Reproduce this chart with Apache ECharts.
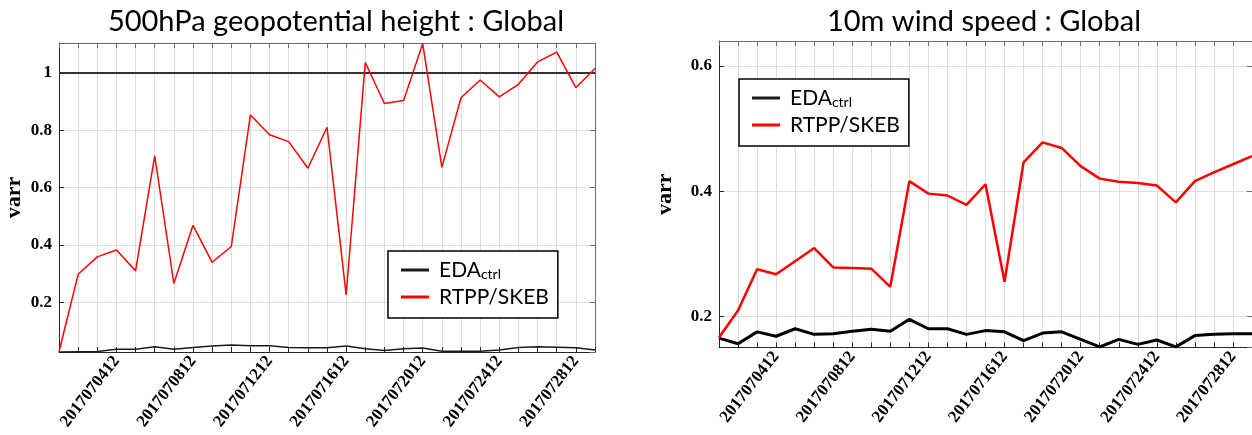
<!DOCTYPE html>
<html>
<head>
<meta charset="utf-8">
<script src="https://cdn.jsdelivr.net/npm/echarts@6/dist/echarts.min.js"></script>
<style>
  html, body { margin: 0; padding: 0; background: #fff; }
  #chart { width: 1252px; height: 435px; }
</style>
</head>
<body>
<div id="chart"></div>
<script>
// Analysis cycles (daily, 12 UTC)
const dates = [
  '2017070112','2017070212','2017070312','2017070412','2017070512','2017070612','2017070712',
  '2017070812','2017070912','2017071012','2017071112','2017071212','2017071312','2017071412',
  '2017071512','2017071612','2017071712','2017071812','2017071912','2017072012','2017072112',
  '2017072212','2017072312','2017072412','2017072512','2017072612','2017072712','2017072812',
  '2017072912'
];

// 500hPa geopotential height : varr
const z500Eda = [0.026,0.027,0.028,0.036,0.036,0.044,0.036,0.042,0.047,0.050,0.048,0.048,0.042,0.041,
  0.041,0.047,0.037,0.031,0.037,0.040,0.029,0.029,0.029,0.033,0.042,0.044,0.043,0.041,0.033];
const z500Rtpp = [0.027,0.297,0.358,0.382,0.309,0.710,0.265,0.468,0.339,0.394,0.853,0.784,0.760,0.667,
  0.810,0.225,1.036,0.893,0.903,1.102,0.670,0.913,0.975,0.916,0.960,1.038,1.072,0.948,1.015];

// 10m wind speed : varr
const wsEda = [0.165,0.156,0.175,0.168,0.180,0.171,0.172,0.176,0.179,0.176,0.195,0.180,0.180,0.171,
  0.177,0.175,0.161,0.173,0.175,0.163,0.151,0.163,0.155,0.162,0.151,0.169,0.171,0.172,0.172];
const wsRtpp = [0.166,0.209,0.275,0.267,0.288,0.309,0.278,0.277,0.276,0.247,0.416,0.396,0.393,0.378,
  0.411,0.255,0.446,0.478,0.469,0.440,0.420,0.415,0.413,0.409,0.382,0.416,0.430,0.443,0.456];

const titles = ['500hPa geopotential height : Global', '10m wind speed : Global'];
const seriesNames = ['EDA_ctrl', 'RTPP/SKEB'];
const yName = 'varr';

const SERIF = '"Liberation Serif", "Times New Roman", serif';
const SANS = 'Lato, "Open Sans", sans-serif';
const AXIS = '#262626';
const GRIDC = '#dedede';

function xAxes(gi) {
  return [
    {
      type: 'category', gridIndex: gi, data: dates, boundaryGap: false, position: 'bottom',
      axisLine: { lineStyle: { color: AXIS, width: 1 } },
      axisTick: { inside: true, interval: 0, length: 5, lineStyle: { color: AXIS } },
      axisLabel: {
        interval: (i) => i % 4 === 3, rotate: 52, margin: 6,
        fontFamily: SERIF, fontWeight: 'bold', fontSize: 17, color: '#000'
      },
      splitLine: { show: true, interval: 0, lineStyle: { color: GRIDC, width: 1 } }
    },
    {
      type: 'category', gridIndex: gi, data: dates, boundaryGap: false, position: 'top',
      axisLine: { lineStyle: { color: '#6b6b6b', width: 1 } },
      axisTick: { inside: true, interval: 0, length: 5, lineStyle: { color: '#6b6b6b' } },
      axisLabel: { show: false }, splitLine: { show: false }
    }
  ];
}

function yAxes(gi, lo, hi, gap) {
  return [
    {
      type: 'value', gridIndex: gi, min: lo, max: hi, minInterval: 0.2, maxInterval: 0.2,
      position: 'left',
      name: yName, nameLocation: 'middle', nameGap: gap, nameRotate: 90,
      nameTextStyle: { fontFamily: SERIF, fontWeight: 'bold', fontSize: 22, color: '#000' },
      axisLine: { show: true, lineStyle: { color: AXIS, width: 1 } },
      axisTick: { show: true, inside: true, length: 5, lineStyle: { color: AXIS } },
      axisLabel: {
        showMinLabel: false, showMaxLabel: false, margin: 7,
        fontFamily: SERIF, fontWeight: 'bold', fontSize: 17, color: '#000',
        formatter: (v) => String(+v.toFixed(2))
      },
      splitLine: { show: true, lineStyle: { color: GRIDC, width: 1 } }
    },
    {
      type: 'value', gridIndex: gi, min: lo, max: hi, minInterval: 0.2, maxInterval: 0.2,
      position: 'right',
      axisLine: { show: true, lineStyle: { color: '#6b6b6b', width: 1 } },
      axisTick: { show: true, inside: true, length: 5, lineStyle: { color: '#6b6b6b' } },
      axisLabel: { show: false }, splitLine: { show: false }
    }
  ];
}

function legendAt(left, top) {
  return {
    left: left, top: top, orient: 'vertical',
    data: seriesNames,
    icon: 'rect', itemWidth: 28, itemHeight: 3, itemGap: 3,
    padding: [7, 9, 9, 13],
    borderColor: '#000', borderWidth: 1.5, borderRadius: 0,
    backgroundColor: '#fff',
    formatter: (n) => n === 'EDA_ctrl' ? 'EDA{sub|ctrl}' : n,
    textStyle: {
      fontFamily: SANS, fontSize: 21, color: '#000', lineHeight: 24, padding: [0, 0, 0, 5],
      rich: { sub: { fontFamily: SANS, fontSize: 14, color: '#000', lineHeight: 24, padding: [9, 0, 0, 0] } }
    }
  };
}

function line(name, data, xi, yi, color, width, extra) {
  return Object.assign({
    name: name, type: 'line', xAxisIndex: xi, yAxisIndex: yi, data: data,
    showSymbol: false, symbol: 'none', animation: false,
    lineStyle: { color: color, width: width }, itemStyle: { color: color }, z: 5
  }, extra || {});
}

const chart = echarts.init(document.getElementById('chart'), null, { renderer: 'canvas' });
chart.setOption({
  backgroundColor: '#fff',
  animation: false,
  title: [
    { text: titles[0], left: 331, top: 2, textAlign: 'center',
      textStyle: { fontFamily: SANS, fontWeight: 'normal', fontSize: 29, color: '#000' } },
    { text: titles[1], left: 979, top: 2, textAlign: 'center',
      textStyle: { fontFamily: SANS, fontWeight: 'normal', fontSize: 29, color: '#000' } }
  ],
  grid: [
    { left: 59, top: 43, width: 536, height: 309, containLabel: false },
    { left: 719, top: 41, width: 535, height: 306.5, containLabel: false }
  ],
  xAxis: [...xAxes(0), ...xAxes(1)],
  yAxis: [...yAxes(0, 0.026, 1.104, 34), ...yAxes(1, 0.15, 0.64, 43)],
  legend: [legendAt(388, 251), legendAt(739, 79)],
  series: [
    line(seriesNames[0], z500Eda, 0, 0, '#1a1a1a', 1.5, {
      markLine: {
        silent: true, symbol: 'none', animation: false,
        label: { show: false },
        lineStyle: { color: '#333', width: 2, type: 'solid' },
        data: [{ yAxis: 1 }]
      }
    }),
    line(seriesNames[1], z500Rtpp, 0, 0, '#ff0000', 1.5),
    line(seriesNames[0], wsEda, 2, 2, '#000', 3),
    line(seriesNames[1], wsRtpp, 2, 2, '#ff0000', 2.5)
  ]
});
</script>
</body>
</html>
